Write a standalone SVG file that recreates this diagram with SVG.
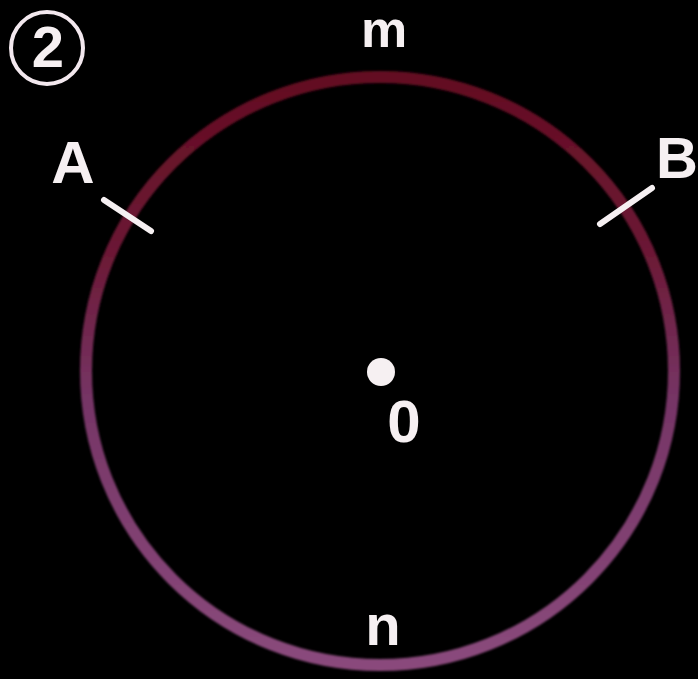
<svg xmlns="http://www.w3.org/2000/svg" width="698" height="679" viewBox="0 0 698 679">
  <style>
    .lbl { font-family: "Liberation Sans", Arial, sans-serif; font-weight: bold; fill: #f6f0f2; }
    .tick { stroke: #f6f0f2; stroke-width: 6; stroke-linecap: round; }
  </style>
  <defs>
    <linearGradient id="ring" x1="0" y1="0" x2="0" y2="1">
      <stop offset="0" stop-color="#640d22"/>
      <stop offset="0.3" stop-color="#6c1935"/>
      <stop offset="0.55" stop-color="#763566"/>
      <stop offset="1" stop-color="#8a4a7c"/>
    </linearGradient>
    <filter id="soft" x="-10%" y="-10%" width="120%" height="120%">
      <feGaussianBlur stdDeviation="1.2"/>
    </filter>
  </defs>
  <rect width="698" height="679" fill="#000"/>
  <g id="figure-number">
    <circle cx="47" cy="48" r="36" fill="none" stroke="#f3e8ee" stroke-width="4"/>
    <text class="lbl" x="48" y="67" font-size="58" text-anchor="middle">2</text>
  </g>
  <g id="circle" filter="url(#soft)">
    <circle cx="380" cy="371" r="294" fill="none" stroke="url(#ring)" stroke-width="12"/>
  </g>
  <g id="center-O">
    <circle cx="381" cy="372" r="14" fill="#f6f0f2"/>
    <text class="lbl" x="404" y="442" font-size="60" text-anchor="middle">0</text>
  </g>
  <g id="label-m">
    <text class="lbl" x="384" y="47" font-size="52" text-anchor="middle">m</text>
  </g>
  <g id="label-n">
    <text class="lbl" x="383" y="645" font-size="58" text-anchor="middle">n</text>
  </g>
  <g id="point-A">
    <line class="tick" x1="104" y1="200" x2="151" y2="231"/>
    <text class="lbl" x="73" y="183" font-size="60" text-anchor="middle">A</text>
  </g>
  <g id="point-B">
    <line class="tick" x1="600" y1="224" x2="652" y2="188"/>
    <text class="lbl" x="656" y="178" font-size="58">B</text>
  </g>
</svg>
